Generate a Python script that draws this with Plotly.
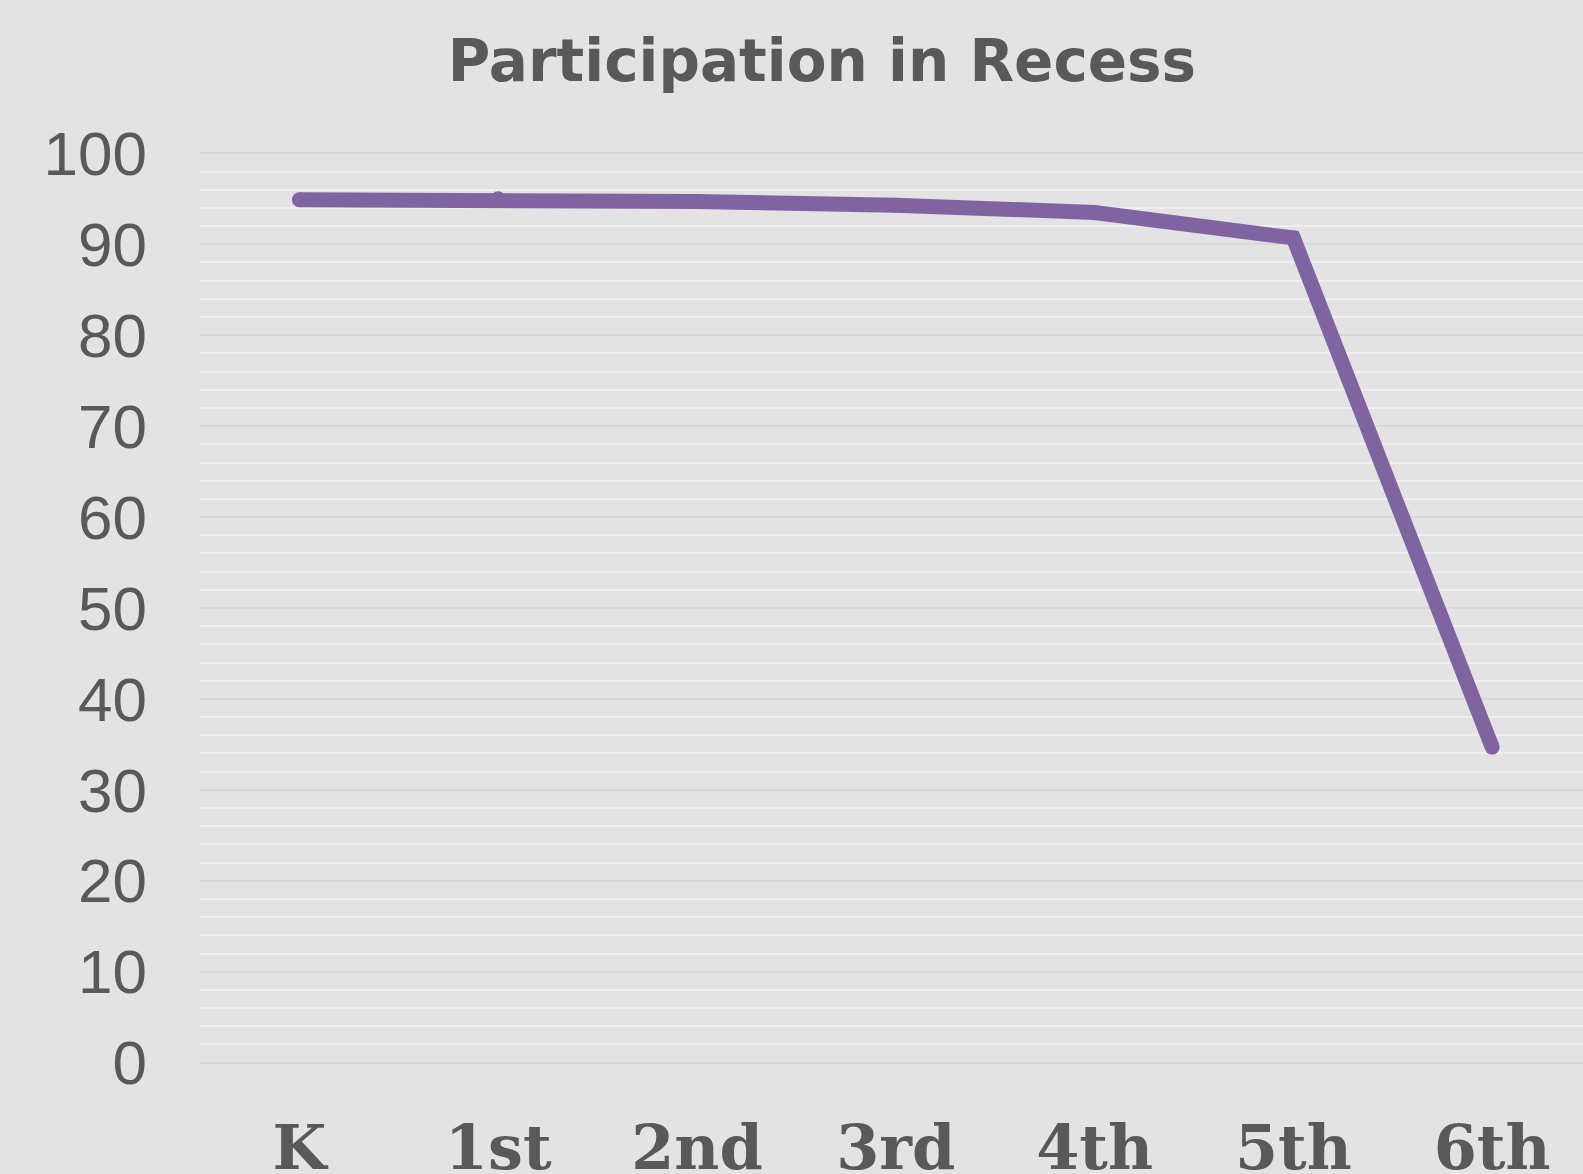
import plotly.graph_objects as go

grades = ["K", "1st", "2nd", "3rd", "4th", "5th", "6th"]
participation = [94.9, 95.0, 94.7, 94.3, 93.5, 90.7, 34.7]
y_ticks = [0, 10, 20, 30, 40, 50, 60, 70, 80, 90, 100]
title_text = "Participation in Recess"

BG = "#e3e3e3"
TXT = "#595959"
LINE = "#8064a2"

fig = go.Figure()
fig.add_trace(go.Scatter(
    x=grades, y=participation, mode="lines+markers",
    line=dict(color=LINE, width=15),
    marker=dict(color=LINE, size=15, line=dict(width=0)),
    hoverinfo="skip", showlegend=False, cliponaxis=False,
))

fig.update_layout(
    width=1583, height=1174,
    paper_bgcolor=BG, plot_bgcolor=BG,
    margin=dict(l=200, r=0, t=152, b=110, pad=0, autoexpand=False),
    title=dict(text=title_text, x=822/1583, xanchor="center",
               y=1 - 61/1174, yanchor="middle", yref="container",
               font=dict(family="DejaVu Sans", size=58, color=TXT, weight="bold")),
    xaxis=dict(type="category", range=[-0.5, 6.457], showgrid=False, zeroline=False,
               showline=False, ticks="", automargin=False,
               tickfont=dict(family="DejaVu Serif", size=62, color=TXT, weight="bold"),
               ticklabelstandoff=42),
    yaxis=dict(range=[-0.15, 100.15], tickvals=y_ticks, showgrid=True, gridcolor="#d8d8d8",
               gridwidth=2, zeroline=False, showline=False, ticks="", automargin=False,
               tickfont=dict(family="Liberation Sans, Arial", size=62, color=TXT),
               ticklabelstandoff=52,
               minor=dict(dtick=2, showgrid=True, gridcolor="#efefef", gridwidth=2)),
)

fig.write_html("out.html", config={"displayModeBar": False},
               post_script="document.body.style.margin='0';document.body.style.overflow='hidden';")
